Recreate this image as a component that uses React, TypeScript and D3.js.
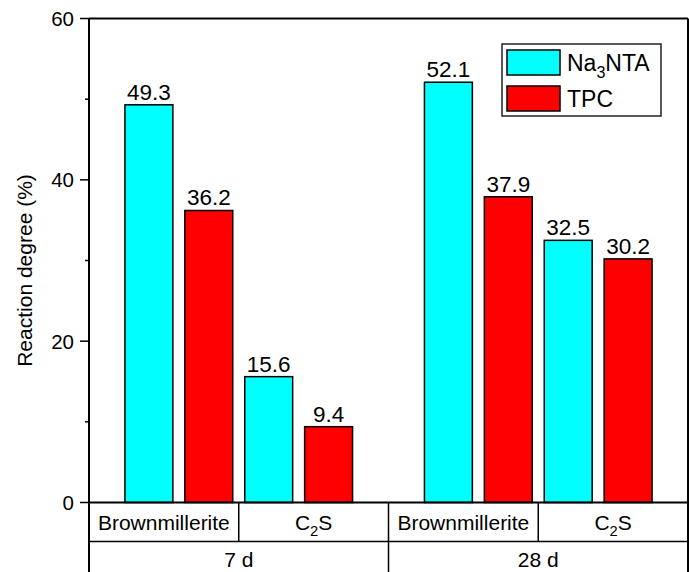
import * as d3 from 'd3';

const periods = ['7 d', '28 d'];
const phases = ['Brownmillerite', 'C2S'];
const seriesNames = ['Na3NTA', 'TPC'];
const seriesColors = ['#00ffff', '#ff0000'];
// values ordered: 7 d Brownmillerite, 7 d C2S, 28 d Brownmillerite, 28 d C2S
const na3ntaValues = [49.3, 15.6, 52.1, 32.5];
const tpcValues = [36.2, 9.4, 37.9, 30.2];
const yTicks = [0, 20, 40, 60];
const yMinorTicks = [10, 30, 50];

const width = 689;
const height = 572;
const left = 89;
const right = 688;
const top = 18.5;
const bottom = 502.5;
const font = '"Liberation Sans", Arial, sans-serif';

// "C2S" -> C, subscript 2, S ; "Na3NTA" -> Na, subscript 3, NTA
function withSubscript(label: string, fontSize: number) {
  const m = label.match(/^([A-Za-z]+?)(\d)([A-Za-z]*)$/);
  if (!m) return label;
  return (
    <>
      {m[1]}
      <tspan dy={fontSize * 0.3} fontSize={fontSize * 0.7}>{m[2]}</tspan>
      <tspan dy={-fontSize * 0.3}>{m[3]}</tspan>
    </>
  );
}

export default function App() {
  const x = d3.scaleLinear().domain([0, 10]).range([left, right]);
  const y = d3.scaleLinear().domain([0, 60]).range([bottom, top]);
  const barW = x(0.8) - x(0);

  const allSeries = [na3ntaValues, tpcValues];
  const bars: { pos: number; value: number; s: number }[] = [];
  periods.forEach((_, g) => {
    phases.forEach((_, p) => {
      allSeries.forEach((vals, s) => {
        bars.push({ pos: 1 + g * 5 + p * 2 + s, value: vals[g * 2 + p], s });
      });
    });
  });

  return (
    <svg width={width} height={height} style={{ position: 'absolute', left: 0, top: 0, background: '#fff' }}
      fontFamily={font}>
      <rect width={width} height={height} fill="#fff" />

      {bars.map((b, i) => (
        <g key={i}>
          <rect x={x(b.pos) - barW / 2} y={y(b.value)} width={barW} height={y(0) - y(b.value)}
            fill={seriesColors[b.s]} stroke="#000" strokeWidth={1.5} />
          <text x={x(b.pos)} y={y(b.value) - 5} textAnchor="middle" fontSize={22.5}>{b.value.toFixed(1)}</text>
        </g>
      ))}

      {/* frame */}
      <line x1={left} x2={right} y1={top} y2={top} stroke="#000" strokeWidth={2} />
      <line x1={right} x2={right} y1={top} y2={height} stroke="#000" strokeWidth={2} />
      <line x1={left} x2={right} y1={bottom} y2={bottom} stroke="#000" strokeWidth={2} />
      <line x1={left} x2={left} y1={top} y2={height} stroke="#000" strokeWidth={2} />

      {/* y axis ticks */}
      {yTicks.map(t => (
        <g key={t}>
          <line x1={left - 9} x2={left} y1={y(t)} y2={y(t)} stroke="#000" strokeWidth={1.5} />
          <text x={left - 15} y={y(t)} dy="0.36em" textAnchor="end" fontSize={20.5}>{t}</text>
        </g>
      ))}
      {yMinorTicks.map(t => (
        <line key={t} x1={left - 4} x2={left} y1={y(t)} y2={y(t)} stroke="#000" strokeWidth={1.5} />
      ))}
      <text transform={`translate(32,${(top + bottom) / 2 + 10}) rotate(-90)`} textAnchor="middle" fontSize={21}>
        Reaction degree (%)
      </text>

      {/* category table */}
      <line x1={left} x2={right} y1={541.5} y2={541.5} stroke="#000" strokeWidth={1.5} />
      {periods.map((period, g) => (
        <g key={period}>
          {g > 0 && <line x1={x(g * 5)} x2={x(g * 5)} y1={bottom} y2={height} stroke="#000" strokeWidth={1.5} />}
          <text x={x(g * 5 + 2.5)} y={567} textAnchor="middle" fontSize={21}>{period}</text>
          {phases.map((ph, p) => (
            <g key={ph}>
              {p > 0 && <line x1={x(g * 5 + p * 2.5)} x2={x(g * 5 + p * 2.5)} y1={bottom} y2={541.5} stroke="#000" strokeWidth={1.5} />}
              <text x={x(g * 5 + p * 2.5 + 1.25)} y={530} textAnchor="middle" fontSize={21}>{withSubscript(ph, 21)}</text>
            </g>
          ))}
        </g>
      ))}

      {/* legend */}
      <rect x={502} y={44} width={159} height={72} fill="#fff" stroke="#222" strokeWidth={1.5} />
      {seriesNames.map((name, i) => (
        <g key={name} transform={`translate(0,${i * 36})`}>
          <rect x={507} y={50} width={53} height={25} fill={seriesColors[i]} stroke="#000" strokeWidth={1.5} />
          <text x={567} y={71} fontSize={23}>{withSubscript(name, 23)}</text>
        </g>
      ))}
    </svg>
  );
}
